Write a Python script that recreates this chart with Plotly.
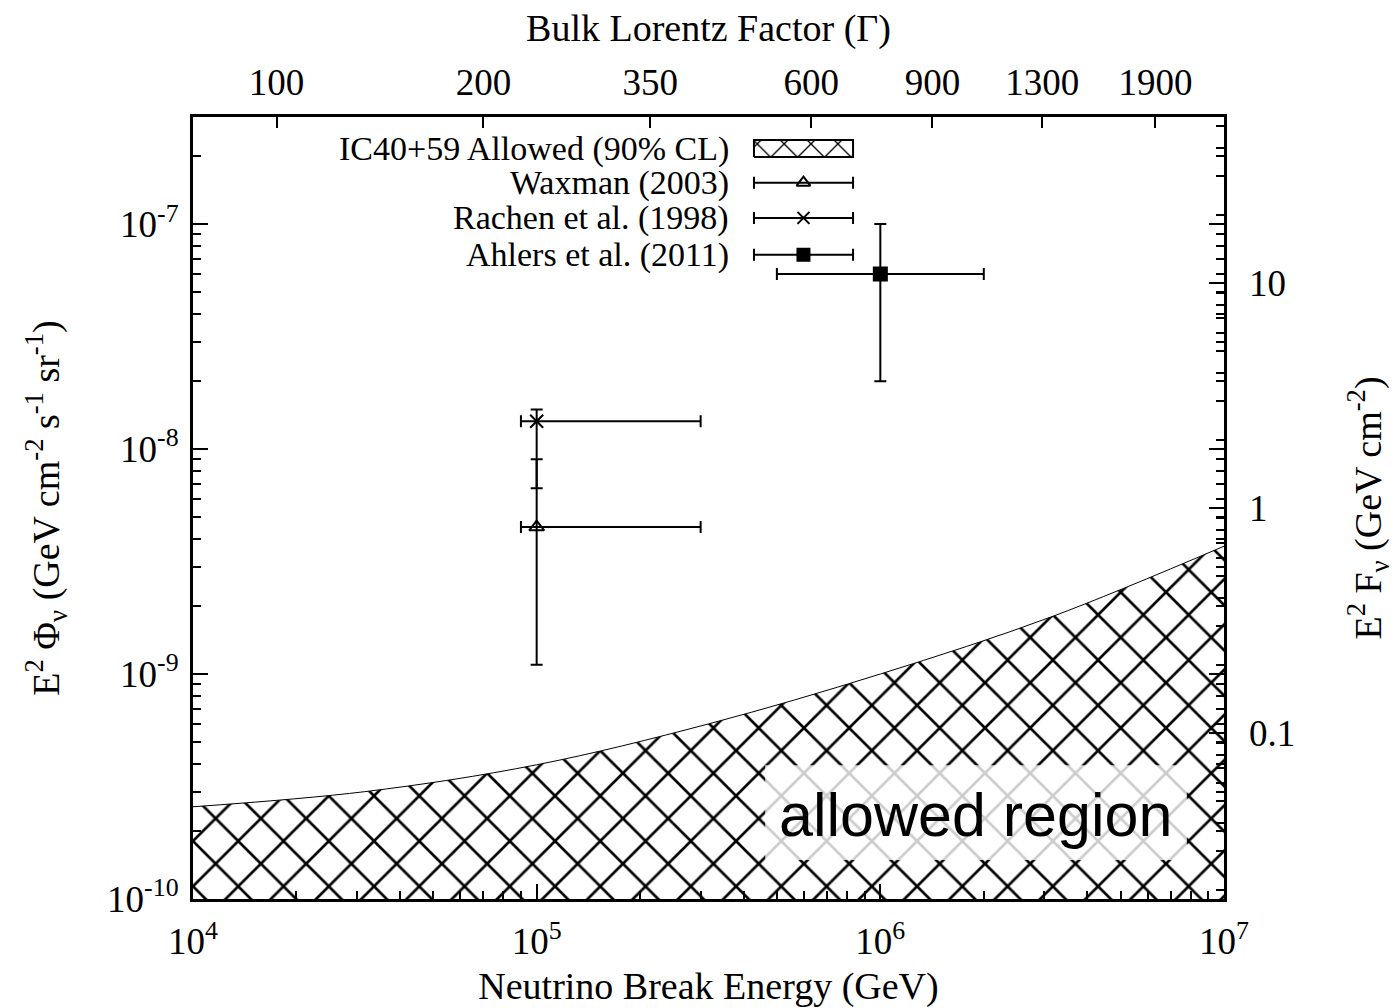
import plotly.graph_objects as go

# ---------------- data ----------------
# allowed-region upper boundary (IC40+59, 90% CL)
curve_E = [1e4, 3.16e4, 1e5, 3.16e5, 1e6, 3.16e6, 1e7]
curve_flux = [2.57e-10, 3.0e-10, 3.95e-10, 6.0e-10, 1.0e-9, 1.8e-9, 3.7e-9]

# model predictions: break energy, flux, and error limits
models = ["Waxman (2003)", "Rachen et al. (1998)", "Ahlers et al. (2011)"]
model_E = [1e5, 1e5, 1e6]
model_E_lo = [9e4, 9e4, 5e5]
model_E_hi = [3e5, 3e5, 2e6]
model_flux = [4.5e-9, 1.33e-8, 6.0e-8]
model_flux_lo = [1.1e-9, 6.7e-9, 2.0e-8]
model_flux_hi = [9.0e-9, 1.5e-8, 1.0e-7]
model_symbols = ["triangle-up-open", "x-thin-open", "square"]
model_sizes = [13, 13, 13]

# axis ticks
x_ticks = [1e4, 1e5, 1e6, 1e7]
x_ticktext = ["10<sup>4</sup>", "10<sup>5</sup>", "10<sup>6</sup>", "10<sup>7</sup>"]
y_ticks = [1e-10, 1e-9, 1e-8, 1e-7]
y_ticktext = ["10<sup>-10</sup>", "10<sup>-9</sup>", "10<sup>-8</sup>", "10<sup>-7</sup>"]
gamma_labels = ["100", "200", "350", "600", "900", "1300", "1900"]
gamma_E = [1.75e4, 7.0e4, 2.14e5, 6.3e5, 1.4175e6, 2.9575e6, 6.3175e6]
right_ticks = [0.1, 1, 10]
right_ticktext = ["0.1", "1", "10"]

# axis ranges (log10)
x_range = [4, 7]
y_range = [-10, -6.524]
right_range = [-1.738, 1.738]

FONT = "Liberation Serif"
FS = 37

def minors(lo, hi):
    out = []
    for d in range(lo, hi):
        for m in range(2, 10):
            out.append(m * 10 ** d)
    return out

HATCH = dict(shape="x", size=32, solidity=0.16, fgcolor="#000000",
             bgcolor="#ffffff", fgopacity=1, fillmode="replace")

fig = go.Figure()

# allowed region (hatched)
fig.add_trace(go.Scatter(x=curve_E, y=[5e-11] * len(curve_E), mode="lines",
                         line=dict(width=0, color="black"), showlegend=False,
                         hoverinfo="skip"))
fig.add_trace(go.Scatter(x=curve_E, y=curve_flux, mode="lines", fill="tonexty",
                         fillcolor="#ffffff", line=dict(color="black", width=1, shape="spline"),
                         fillpattern=HATCH, showlegend=False, hoverinfo="skip"))

# model points
for i in range(len(models)):
    fig.add_trace(go.Scatter(
        x=[model_E[i]], y=[model_flux[i]], mode="markers", showlegend=False,
        marker=dict(symbol=model_symbols[i], size=model_sizes[i], color="black",
                    line=dict(color="black", width=2)),
        error_x=dict(type="data", array=[model_E_hi[i] - model_E[i]],
                     arrayminus=[model_E[i] - model_E_lo[i]],
                     color="black", thickness=2, width=6),
        error_y=dict(type="data", array=[model_flux_hi[i] - model_flux[i]],
                     arrayminus=[model_flux[i] - model_flux_lo[i]],
                     color="black", thickness=2, width=6),
    ))

# dummy traces so secondary axes exist
fig.add_trace(go.Scatter(x=[1e5], y=[1e-9], xaxis="x2", yaxis="y", mode="markers",
                         marker=dict(opacity=0), showlegend=False, hoverinfo="skip"))
fig.add_trace(go.Scatter(x=[1e5], y=[1], xaxis="x", yaxis="y2", mode="markers",
                         marker=dict(opacity=0), showlegend=False, hoverinfo="skip"))

# ---------------- legend (manual, text left of sample) ----------------
leg_rows = [0.959, 0.916, 0.871, 0.824]
leg_text = ["IC40+59 Allowed (90% CL)"] + models
leg_x0, leg_x1 = 0.5441, 0.6402
leg_xc = 0.5921
for t, yy in zip(leg_text, leg_rows):
    fig.add_annotation(x=0.522, y=yy, xref="paper", yref="paper", text=t,
                       showarrow=False, xanchor="right", yanchor="middle",
                       font=dict(family=FONT, size=34, color="black"))
# hatched sample
fig.add_trace(go.Scatter(x=[leg_x0, leg_x1, leg_x1, leg_x0, leg_x0],
                         y=[0.9488, 0.9488, 0.9706, 0.9706, 0.9488],
                         xaxis="x3", yaxis="y3", mode="lines", fill="toself",
                         fillcolor="#ffffff", line=dict(color="black", width=2),
                         fillpattern=dict(HATCH, size=19, solidity=0.14),
                         showlegend=False, hoverinfo="skip"))
for i in range(len(models)):
    fig.add_trace(go.Scatter(
        x=[leg_xc], y=[leg_rows[i + 1]], xaxis="x3", yaxis="y3", mode="markers",
        showlegend=False, hoverinfo="skip",
        marker=dict(symbol=model_symbols[i], size=model_sizes[i] - 1, color="black",
                    line=dict(color="black", width=2)),
        error_x=dict(type="data", array=[leg_x1 - leg_xc], arrayminus=[leg_xc - leg_x0],
                     color="black", thickness=2, width=6),
    ))

# "allowed region" label box
fig.add_shape(type="rect", xref="paper", yref="paper", x0=0.555, x1=0.964,
              y0=0.050, y1=0.171, fillcolor="rgba(255,255,255,0.8)",
              line=dict(width=0), layer="above")
fig.add_annotation(x=0.759, y=0.108, xref="paper", yref="paper", text="allowed region",
                   showarrow=False, xanchor="center", yanchor="middle",
                   font=dict(family="Liberation Sans", size=61, color="black"))

axis_common = dict(showgrid=False, zeroline=False, color="black", automargin=False,
                   tickfont=dict(family=FONT, size=FS, color="black"))

fig.update_layout(
    width=1400, height=1008,
    margin=dict(l=193, r=176, t=117, b=109),
    paper_bgcolor="white", plot_bgcolor="white",
    font=dict(family=FONT, size=FS, color="black"),
    showlegend=False,
    xaxis=dict(type="log", range=x_range, tickmode="array", tickvals=x_ticks,
               ticktext=x_ticktext, ticks="inside", ticklen=15, tickwidth=2,
               showline=True, linewidth=3, linecolor="black", mirror=True,
               ticklabelstandoff=8,
               minor=dict(tickmode="array", tickvals=minors(4, 7), ticks="inside",
                          ticklen=8, tickwidth=2, tickcolor="black"),
               title=dict(text="Neutrino Break Energy (GeV)",
                          font=dict(family=FONT, size=38), standoff=12),
               **axis_common),
    xaxis2=dict(type="log", range=x_range, overlaying="x", side="top", anchor="y",
                tickmode="array", tickvals=gamma_E, ticktext=gamma_labels,
                ticks="inside", ticklen=11, tickwidth=2, showline=False,
                ticklabelstandoff=14,
                title=dict(text="Bulk Lorentz Factor (Γ)",
                           font=dict(family=FONT, size=38), standoff=8),
                **axis_common),
    yaxis=dict(type="log", range=y_range, tickmode="array", tickvals=y_ticks,
               ticktext=y_ticktext, ticks="inside", ticklen=15, tickwidth=2,
               showline=True, linewidth=3, linecolor="black", mirror="ticks",
               ticklabelstandoff=4,
               minor=dict(tickmode="array", tickvals=minors(-10, -6), ticks="inside",
                          ticklen=8, tickwidth=2, tickcolor="black"),
               title=dict(text="E<sup>2</sup> Φ<sub>ν</sub> (GeV cm<sup>-2</sup> s<sup>-1</sup> sr<sup>-1</sup>)",
                          font=dict(family=FONT, size=38), standoff=36),
               **axis_common),
    yaxis2=dict(type="log", range=right_range, overlaying="y", side="right", anchor="x",
                tickmode="array", tickvals=right_ticks, ticktext=right_ticktext,
                ticks="inside", ticklen=15, tickwidth=2, showline=False,
                ticklabelstandoff=24,
                minor=dict(tickmode="array", tickvals=minors(-2, 2), ticks="inside",
                           ticklen=8, tickwidth=2, tickcolor="black"),
                title=dict(text="E<sup>2</sup> F<sub>ν</sub> (GeV cm<sup>-2</sup>)",
                           font=dict(family=FONT, size=38), standoff=60),
                **axis_common),
    xaxis3=dict(range=[0, 1], overlaying="x", anchor="y3", visible=False),
    yaxis3=dict(range=[0, 1], overlaying="y", anchor="x3", visible=False),
)

fig.write_html("out.html")
